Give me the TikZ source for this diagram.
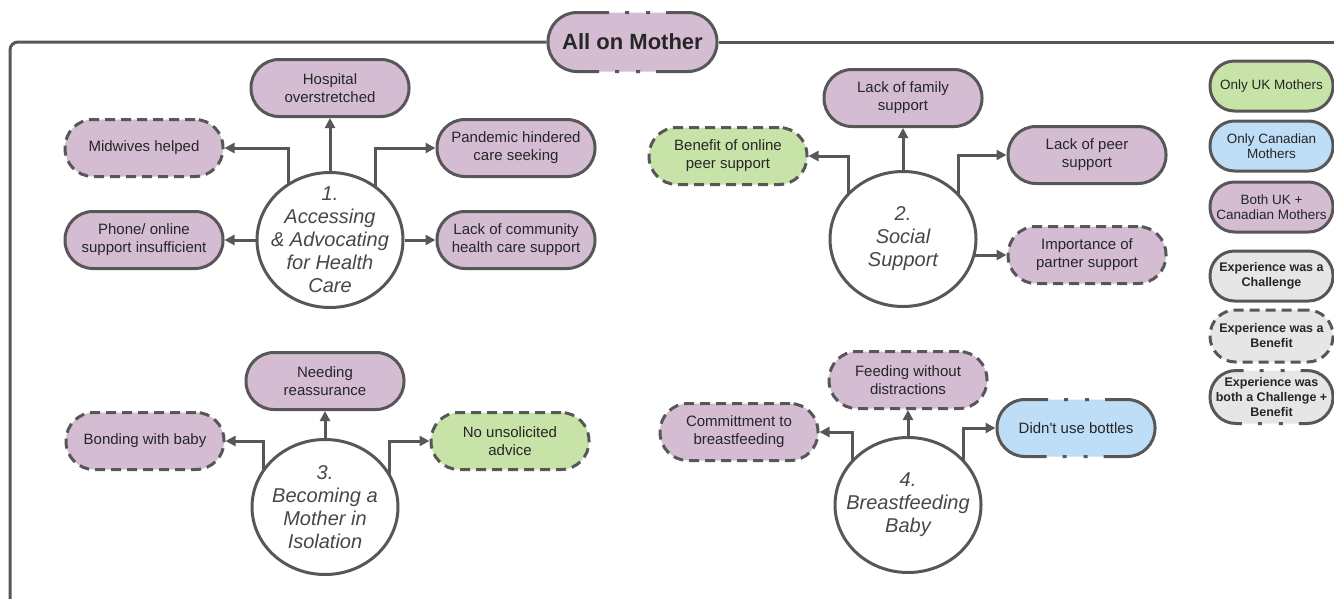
\documentclass[tikz,border=0pt]{standalone}
\usepackage{fontspec}
\setmainfont{Liberation Sans}[Ligatures=TeXOff]
\usetikzlibrary{shapes.geometric,arrows.meta,backgrounds}
\definecolor{mauve}{HTML}{D4BDD3}
\definecolor{ukgreen}{HTML}{C8E3A8}
\definecolor{cablue}{HTML}{BEDDF6}
\definecolor{lgray}{HTML}{E6E6E6}
\definecolor{edgec}{HTML}{575757}
\definecolor{txt}{HTML}{262626}
\begin{document}
\begin{tikzpicture}[x=1pt,y=-1pt,
  pill/.style={rectangle, rounded corners=28pt, draw=edgec, line width=3pt, minimum width=158pt, minimum height=57pt, inner sep=0pt, align=center, text=txt, font=\fontsize{15}{18}\selectfont},
  leg/.style={pill, rounded corners=24.5pt, minimum width=123pt, minimum height=50pt, font=\fontsize{13.5}{15}\selectfont},
  legb/.style={leg, font=\fontsize{12.5}{15}\selectfont\bfseries},
  theme/.style={ellipse, draw=edgec, fill=white, line width=3pt, minimum width=146pt, minimum height=135pt, inner sep=0pt},
  themetxt/.style={align=center, text=txt!85, font=\fontsize{20}{23}\selectfont\itshape, inner sep=0pt},
  benefit/.style={dash pattern=on 10pt off 6pt},
  bothce/.style 2 args={dash pattern=on #1 off 16pt on 4pt off 17pt on 4pt off 16pt, dash phase=#2},
  arr/.style={draw=edgec, line width=3pt, -{Triangle[length=10pt,width=10pt]}},
  frame/.style={draw=edgec, line width=3pt, rounded corners=8pt}
]
\useasboundingbox (0,0) rectangle (1334,598);

% title
\node[pill, fill=mauve, bothce={146pt}{124pt}, minimum width=169pt, minimum height=59pt, rounded corners=29pt, font=\fontsize{22}{26}\selectfont\bfseries] (title) at (632.5,42) {All on Mother};

% cluster 1
\node[theme, label={[themetxt]center:{1.\\Accessing\\\& Advocating\\for Health\\Care}}] (c1) at (330,240) {};
\node[pill, fill=mauve] (hosp) at (330,88) {Hospital\\overstretched};
\node[pill, fill=mauve] (pand) at (516,148) {Pandemic hindered\\care seeking};
\node[pill, fill=mauve, benefit] (mid) at (144,148) {Midwives helped};
\node[pill, fill=mauve] (phone) at (144,240) {Phone/ online\\support insufficient};
\node[pill, fill=mauve] (comm) at (516,240) {Lack of community\\health care support};

% cluster 2
\node[theme, label={[themetxt]center:{2.\\Social\\Support}}] (c2) at (903,239) {};
\node[pill, fill=mauve] (fam) at (903,98) {Lack of family\\support};
\node[pill, fill=ukgreen, benefit] (ben) at (728,156) {Benefit of online\\peer support};
\node[pill, fill=mauve] (peer) at (1087,155) {Lack of peer\\support};
\node[pill, fill=mauve, benefit] (imp) at (1087,255) {Importance of\\partner support};

% cluster 3
\node[theme, label={[themetxt]center:{3.\\Becoming a\\Mother in\\Isolation}}] (c3) at (325,507) {};
\node[pill, fill=mauve] (need) at (325,381) {Needing\\reassurance};
\node[pill, fill=mauve, benefit] (bond) at (145,441) {Bonding with baby};
\node[pill, fill=ukgreen, benefit] (unsol) at (510,441) {No unsolicited\\advice};

% cluster 4
\node[theme, label={[themetxt]center:{4.\\Breastfeeding\\Baby}}] (c4) at (908,505) {};
\node[pill, fill=mauve, benefit] (feed) at (908,380) {Feeding without\\distractions};
\node[pill, fill=mauve, benefit] (cbf) at (739,432) {Committment to\\breastfeeding};
\node[pill, fill=cablue, bothce={133.5pt}{111.5pt}] (bott) at (1076,428) {Didn't use bottles};

% legend
\node[leg, fill=ukgreen] (l1) at (1271.5,86) {Only UK Mothers};
\node[leg, fill=cablue] (l2) at (1271.5,146) {Only Canadian\\Mothers};
\node[leg, fill=mauve] (l3) at (1271.5,207) {Both UK +\\Canadian Mothers};
\node[legb, fill=lgray] (l4) at (1271.5,276) {Experience was a\\Challenge};
\node[legb, fill=lgray, benefit, minimum height=52pt, rounded corners=25.5pt] (l5) at (1271.5,336) {Experience was a\\Benefit};
\node[legb, fill=lgray, bothce={96pt}{89.5pt}, minimum height=53pt, rounded corners=26pt] (l6) at (1271.5,397) {Experience was\\both a Challenge +\\Benefit};

\begin{scope}[on background layer]
\coordinate (fTL) at (10,42);
\coordinate (fBL) at (10,610);
\coordinate (fR) at (1345,42);
\draw[frame] (title.west) -- (fTL) -- (fBL);
\draw[frame] (title.east) -- (fR);

\draw[arr] (c1) -- (hosp);
\draw[arr] ([xshift=-42pt]c1.center) |- (mid);
\draw[arr] ([xshift=45pt]c1.center) |- (pand);
\draw[arr] (c1) -- (phone);
\draw[arr] (c1) -- (comm);

\draw[arr] (c2) -- (fam);
\draw[arr] ([xshift=-55pt]c2.center) |- (ben);
\draw[arr] ([xshift=55pt]c2.center) |- (peer);
\draw[arr] (c2.center |- imp) -- (imp);

\draw[arr] (c3) -- (need);
\draw[arr] ([xshift=-62pt]c3.center) |- (bond);
\draw[arr] ([xshift=64pt]c3.center) |- (unsol);

\draw[arr] (c4) -- (feed);
\draw[arr] ([xshift=-56pt]c4.center) |- (cbf);
\draw[arr] ([xshift=55pt]c4.center) |- (bott);
\end{scope}
\end{tikzpicture}
\end{document}
